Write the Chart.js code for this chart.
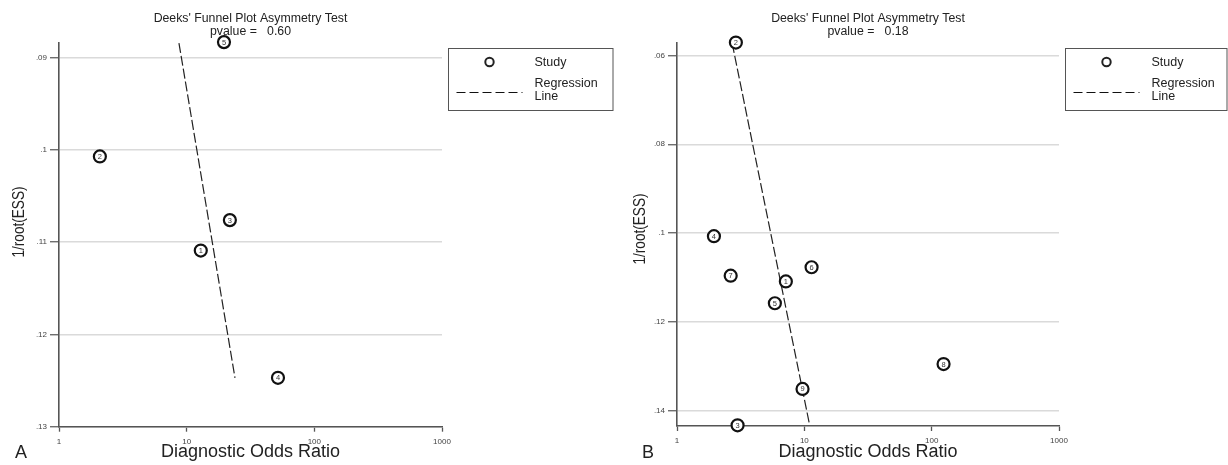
<!DOCTYPE html>
<html>
<head>
<meta charset="utf-8">
<title>Deeks' Funnel Plot Asymmetry Test</title>
<script src="https://cdn.jsdelivr.net/npm/chart.js@4.4.1/dist/chart.umd.min.js"></script>
<style>
  html, body { margin: 0; padding: 0; background: #fff; }
  #wrap { position: relative; width: 1228px; height: 465px; overflow: hidden; }
  canvas { position: absolute; top: 0; }
  #chartA { left: 0; }
  #chartB { left: 614px; }
</style>
</head>
<body>
<div id="wrap">
  <canvas id="chartA" width="614" height="465"></canvas>
  <canvas id="chartB" width="614" height="465"></canvas>
</div>
<script>
// --- panel A data ---
const studyA = ['1', '2', '3', '4', '5'];
const dorA = [12.9, 2.09, 21.8, 51.9, 19.6];
const essA = [0.1109, 0.1007, 0.1076, 0.1247, 0.0883];
const lineDorA = [8.7, 23.9];
const lineEssA = [0.0884, 0.1247];
const yTicksA = [0.09, 0.1, 0.11, 0.12, 0.13];
const yLabelsA = ['.09', '.1', '.11', '.12', '.13'];
const pvalueA = '0.60';

// --- panel B data ---
const studyB = ['1', '2', '3', '4', '5', '6', '7', '8', '9'];
const dorB = [7.16, 2.90, 2.99, 1.95, 5.87, 11.4, 2.64, 124, 9.68];
const essB = [0.1109, 0.0571, 0.1433, 0.1007, 0.1158, 0.1077, 0.1096, 0.1295, 0.1351];
const lineDorB = [2.71, 11.0];
const lineEssB = [0.0572, 0.1432];
const yTicksB = [0.06, 0.08, 0.1, 0.12, 0.14];
const yLabelsB = ['.06', '.08', '.1', '.12', '.14'];
const pvalueB = '0.18';

// shared x axis (log)
const xTicks = [1, 10, 100, 1000];
const xLabels = ['1', '10', '100', '1000'];

const FONT = '"Liberation Sans", Arial, Helvetica, sans-serif';
const AXIS = '#555';

// numbers inside the study circles, legend box, panel letter, y title
const panelExtras = {
  id: 'panelExtras',
  afterDatasetsDraw(chart, args, opts) {
    const ctx = chart.ctx;
    const meta = chart.getDatasetMeta(0);
    ctx.save();
    ctx.font = '7.5px ' + FONT;
    ctx.fillStyle = '#333';
    ctx.textAlign = 'center';
    ctx.textBaseline = 'middle';
    meta.data.forEach((pt, i) => ctx.fillText(opts.ids[i], pt.x, pt.y + 0.5));
    ctx.restore();
  },
  afterDraw(chart, args, opts) {
    const { ctx, chartArea } = chart;
    ctx.save();

    // legend
    const bx = chartArea.right + 6.5, by = 48.5;
    const bw = Math.min(165, chart.width - 1 - bx), bh = 62;
    ctx.strokeStyle = AXIS;
    ctx.lineWidth = 1;
    ctx.strokeRect(bx, by, bw, bh);

    ctx.beginPath();
    ctx.arc(bx + 41, 62, 4.2, 0, Math.PI * 2);
    ctx.lineWidth = 2;
    ctx.strokeStyle = '#222';
    ctx.stroke();

    ctx.beginPath();
    ctx.setLineDash([9, 4]);
    ctx.lineWidth = 1;
    ctx.strokeStyle = '#111';
    ctx.moveTo(bx + 8, 92.5);
    ctx.lineTo(bx + 74, 92.5);
    ctx.stroke();
    ctx.setLineDash([]);

    ctx.fillStyle = '#222';
    ctx.font = '12.5px ' + FONT;
    ctx.textAlign = 'left';
    ctx.textBaseline = 'middle';
    ctx.fillText('Study', bx + 86, 63);
    ctx.fillText('Regression', bx + 86, 84);
    ctx.fillText('Line', bx + 86, 97);

    // panel letter
    ctx.font = '18px ' + FONT;
    ctx.textBaseline = 'alphabetic';
    ctx.fillText(opts.letter, opts.letterX, 458);

    // y axis title (squeezed a bit, as in the original)
    ctx.translate(opts.yTitleX, opts.yTitleY);
    ctx.rotate(-Math.PI / 2);
    ctx.scale(0.8, 1);
    ctx.font = '17px ' + FONT;
    ctx.textAlign = 'center';
    ctx.textBaseline = 'middle';
    ctx.fillText('1/root(ESS)', 0, 0);
    ctx.restore();
  }
};

function makeFunnel(id, p) {
  const points = p.dor.map((x, i) => ({ x: x, y: p.ess[i] }));
  const line = p.lineDor.map((x, i) => ({ x: x, y: p.lineEss[i] }));
  return new Chart(document.getElementById(id), {
    type: 'scatter',
    data: {
      datasets: [
        {
          label: 'Study',
          data: points,
          pointRadius: 6,
          pointBorderWidth: 2.2,
          pointBorderColor: '#111',
          pointBackgroundColor: '#fff',
          clip: false
        },
        {
          label: 'Regression Line',
          type: 'line',
          data: line,
          showLine: true,
          borderColor: '#222',
          borderWidth: 1.2,
          borderDash: [10, 3],
          pointRadius: 0,
          clip: false
        }
      ]
    },
    plugins: [panelExtras],
    options: {
      responsive: false,
      animation: false,
      devicePixelRatio: 1,
      layout: { padding: { left: 0, right: p.padRight, top: 0, bottom: 0 } },
      plugins: {
        legend: { display: false },
        tooltip: { enabled: false },
        title: {
          display: true,
          fullSize: false,
          text: ["Deeks' Funnel Plot Asymmetry Test", 'pvalue =   ' + p.pvalue],
          color: '#222',
          font: { family: FONT, size: 12.3, weight: 'normal', lineHeight: 1.05 },
          padding: { top: 12.5, bottom: 4.7 }
        },
        panelExtras: {
          ids: p.ids,
          letter: p.letter,
          letterX: p.letterX,
          yTitleX: p.yTitleX,
          yTitleY: p.yTitleY
        }
      },
      scales: {
        x: {
          type: 'logarithmic',
          min: 1,
          max: 1000,
          afterBuildTicks: (scale) => { scale.ticks = xTicks.map(v => ({ value: v })); },
          afterFit: (scale) => { scale.height = p.xAxisHeight; },
          ticks: {
            autoSkip: false,
            maxRotation: 0,
            padding: 5,
            color: '#444',
            font: { family: FONT, size: 8 },
            callback: (v, i) => xLabels[i]
          },
          grid: {
            drawOnChartArea: false,
            drawTicks: true,
            tickLength: 5,
            tickColor: AXIS,
            tickWidth: 1.3
          },
          border: { display: true, color: AXIS, width: 1.6 },
          title: {
            display: true,
            text: 'Diagnostic Odds Ratio',
            color: '#222',
            font: { family: FONT, size: 18, lineHeight: 1.2 },
            padding: { top: 0, bottom: 2 }
          }
        },
        y: {
          type: 'linear',
          reverse: true,
          min: p.yMin,
          max: p.yMax,
          afterBuildTicks: (scale) => { scale.ticks = p.yTicks.map(v => ({ value: v })); },
          afterFit: (scale) => { scale.width = p.yAxisWidth; },
          ticks: {
            autoSkip: false,
            padding: 3,
            color: '#444',
            font: { family: FONT, size: 8 },
            callback: (v, i) => p.yLabels[i]
          },
          grid: {
            color: '#dadada',
            lineWidth: 1.5,
            drawTicks: true,
            tickLength: 9,
            tickColor: AXIS,
            tickWidth: 1.2
          },
          border: { display: true, color: AXIS, width: 1.6 }
        }
      }
    }
  });
}

makeFunnel('chartA', {
  ids: studyA, dor: dorA, ess: essA, lineDor: lineDorA, lineEss: lineEssA,
  yTicks: yTicksA, yLabels: yLabelsA, pvalue: pvalueA,
  yMin: 0.0884, yMax: 0.13,
  yAxisWidth: 59, padRight: 172, xAxisHeight: 38.3,
  letter: 'A', letterX: 15, yTitleX: 19.5, yTitleY: 222
});

makeFunnel('chartB', {
  ids: studyB, dor: dorB, ess: essB, lineDor: lineDorB, lineEss: lineEssB,
  yTicks: yTicksB, yLabels: yLabelsB, pvalue: pvalueB,
  yMin: 0.0572, yMax: 0.14345,
  yAxisWidth: 63, padRight: 169, xAxisHeight: 39,
  letter: 'B', letterX: 28, yTitleX: 26, yTitleY: 229
});
</script>
</body>
</html>
